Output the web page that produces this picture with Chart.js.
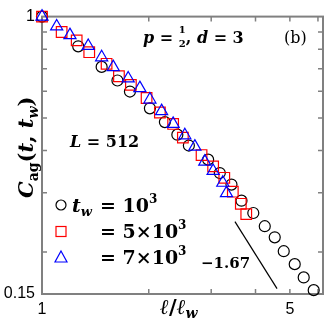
<!DOCTYPE html>
<html>
<head>
<meta charset="utf-8">
<script src="https://cdn.jsdelivr.net/npm/chart.js@4"></script>
<style>
  body { margin: 0; background: #fff; }
  #wrap { width: 332px; height: 323px; }
</style>
</head>
<body>
<div id="wrap"><canvas id="myChart" width="332" height="323"></canvas></div>
<script>
// t_w = 10^3 (circles)
const circX = [1, 1.265, 1.473, 1.632, 1.770, 2.015, 2.221, 2.408, 2.595, 2.941, 3.172, 3.422, 3.652, 3.943, 4.248, 4.532, 4.805, 5.160, 5.470, 5.837];
const circY = [1, 0.816, 0.709, 0.646, 0.599, 0.534, 0.486, 0.446, 0.414, 0.376, 0.343, 0.317, 0.284, 0.261, 0.2385, 0.221, 0.201, 0.184, 0.168, 0.154];
// t_w = 5x10^3 (squares)
const sqX = [1, 1.136, 1.2525, 1.359, 1.521, 1.648, 1.781, 1.972, 2.150, 2.343, 2.496, 2.818, 3.038, 3.266, 3.452, 3.636, 3.767];
const sqY = [1, 0.900, 0.850, 0.784, 0.724, 0.665, 0.627, 0.573, 0.519, 0.480, 0.437, 0.388, 0.359, 0.332, 0.302, 0.278, 0.259];
// t_w = 7x10^3 (triangles)
const triX = [1, 1.100, 1.199, 1.350, 1.473, 1.588, 1.750, 1.888, 2.015, 2.174, 2.343, 2.528, 2.698, 2.878, 3.038, 3.235, 3.313];
const triY = [1, 0.935, 0.881, 0.818, 0.757, 0.708, 0.655, 0.613, 0.567, 0.524, 0.480, 0.444, 0.411, 0.371, 0.348, 0.321, 0.299];
// guide line, slope -1.67
const slopeX = [3.50, 4.60];
const slopeY = [0.246, 0.1556];

const xLabels = [1, 5];
const yLabels = [0.15, 1];
const xMinor = [2, 3, 4, 5, 6];
const yMinor = [0.2, 0.3, 0.4, 0.5, 0.6, 0.7, 0.8, 0.9];

const pts = (xs, ys) => xs.map((x, i) => ({ x: x, y: ys[i] }));

const SERIF = '"DejaVu Serif"';
const BI = s => 'italic bold ' + s + 'px ' + SERIF;
const B = s => 'bold ' + s + 'px ' + SERIF;
const R = s => s + 'px ' + SERIF;

function runs(ctx, x, y, parts) {
  for (const [t, font, dy] of parts) {
    ctx.font = font;
    ctx.fillText(t, x, y + (dy || 0));
    x += ctx.measureText(t).width;
  }
  return x;
}

const decor = {
  id: 'decor',
  beforeDatasetsDraw(chart) {
    const { ctx, chartArea: a, scales: { x, y } } = chart;
    ctx.save();
    ctx.strokeStyle = '#808080';
    ctx.lineWidth = 1.5;
    ctx.beginPath();
    xMinor.forEach(v => {
      const px = x.getPixelForValue(v);
      ctx.moveTo(px, a.bottom); ctx.lineTo(px, a.bottom - 5);
      ctx.moveTo(px, a.top); ctx.lineTo(px, a.top + 5);
    });
    yMinor.forEach(v => {
      const py = y.getPixelForValue(v);
      ctx.moveTo(a.left, py); ctx.lineTo(a.left + 5, py);
      ctx.moveTo(a.right, py); ctx.lineTo(a.right - 5, py);
    });
    ctx.stroke();
    ctx.lineWidth = 2;
    ctx.strokeRect(a.left, a.top, a.right - a.left, a.bottom - a.top);
    ctx.restore();
  },
  afterDraw(chart) {
    const ctx = chart.ctx;
    ctx.save();
    ctx.fillStyle = '#000';
    ctx.textBaseline = 'alphabetic';

    // axis titles
    ctx.save();
    ctx.translate(33, 198);
    ctx.rotate(-Math.PI / 2);
    runs(ctx, 0, 0, [['C', BI(21)], ['ag', B(14), 5], ['(', B(21)], ['t', BI(21)], [', ', B(21)], ['t', BI(21)], ['w', BI(14), 5], [')', B(21)]]);
    ctx.restore();
    runs(ctx, 160, 314, [['ℓ', BI(21)], ['/', B(21)], ['ℓ', BI(21)], ['w', BI(14), 4]]);

    // annotations
    let px = runs(ctx, 143, 43, [['p', BI(16)], [' = ', B(16)]]);
    ctx.font = B(10);
    ctx.fillText('1', px, 33);
    ctx.fillText('2', px, 47);
    runs(ctx, px + 7, 43, [[', ', B(16)], ['d', BI(16)], [' = 3', B(16)]]);
    ctx.font = R(16);
    ctx.fillText('(b)', 284, 43);
    runs(ctx, 70, 147, [['L', BI(16)], [' = 512', B(16)]]);
    ctx.font = B(15);
    ctx.fillText('\u22121.67', 201, 268);

    // legend
    ctx.lineWidth = 1.2;
    ctx.strokeStyle = '#000';
    ctx.beginPath(); ctx.arc(61, 205, 5, 0, Math.PI * 2); ctx.stroke();
    ctx.strokeStyle = '#ff0000';
    ctx.strokeRect(56, 226.5, 10, 10);
    ctx.strokeStyle = '#0000ff';
    ctx.beginPath(); ctx.moveTo(61, 251); ctx.lineTo(67, 262); ctx.lineTo(55, 262); ctx.closePath(); ctx.stroke();
    runs(ctx, 72, 212, [['t', BI(19)], ['w', BI(13), 4]]);
    runs(ctx, 100, 212, [['= 10', B(19)], ['3', B(12), -9]]);
    runs(ctx, 100, 238, [['= 5\u00d710', B(19)], ['3', B(12), -9]]);
    runs(ctx, 100, 264, [['= 7\u00d710', B(19)], ['3', B(12), -9]]);
    ctx.restore();
  }
};

const tickFont = { family: '"Liberation Sans"', size: 16 };

new Chart(document.getElementById('myChart').getContext('2d'), {
  type: 'scatter',
  data: {
    datasets: [
      { label: 't_w = 7x10^3', data: pts(triX, triY), pointStyle: 'triangle', pointRadius: 7, pointBorderWidth: 1.2,
        borderColor: '#0000ff', backgroundColor: 'rgba(0,0,0,0)', order: 0, clip: false },
      { label: 't_w = 5x10^3', data: pts(sqX, sqY), pointStyle: 'rect', pointRadius: 7.5, pointBorderWidth: 1.2,
        borderColor: '#ff0000', backgroundColor: 'rgba(0,0,0,0)', order: 1, clip: false },
      { label: 't_w = 10^3', data: pts(circX, circY), pointStyle: 'circle', pointRadius: 5.5, pointBorderWidth: 1.2,
        borderColor: '#000000', backgroundColor: 'rgba(0,0,0,0)', order: 2, clip: false },
      { label: 'slope', data: pts(slopeX, slopeY), showLine: true, pointRadius: 0, borderWidth: 1.2,
        borderColor: '#000000', order: 3 },
    ],
  },
  options: {
    responsive: false,
    animation: false,
    layout: { padding: { top: 10, right: 9 } },
    plugins: { legend: { display: false }, tooltip: { enabled: false } },
    scales: {
      x: {
        type: 'logarithmic', min: 1, max: 6.2,
        grid: { display: false, drawTicks: false }, border: { display: false },
        afterBuildTicks: s => { s.ticks = xLabels.map(v => ({ value: v })); },
        afterFit: s => { s.height = 29; },
        ticks: { font: tickFont, color: '#000', padding: 6, maxRotation: 0, autoSkip: false, callback: v => String(v) },
      },
      y: {
        type: 'logarithmic', min: 0.15, max: 1,
        grid: { display: false, drawTicks: false }, border: { display: false },
        afterBuildTicks: s => { s.ticks = yLabels.map(v => ({ value: v })); },
        afterFit: s => { s.width = 42; },
        ticks: { font: tickFont, color: '#000', padding: 7, autoSkip: false, callback: v => String(v) },
      },
    },
  },
  plugins: [decor],
});
</script>
</body>
</html>
